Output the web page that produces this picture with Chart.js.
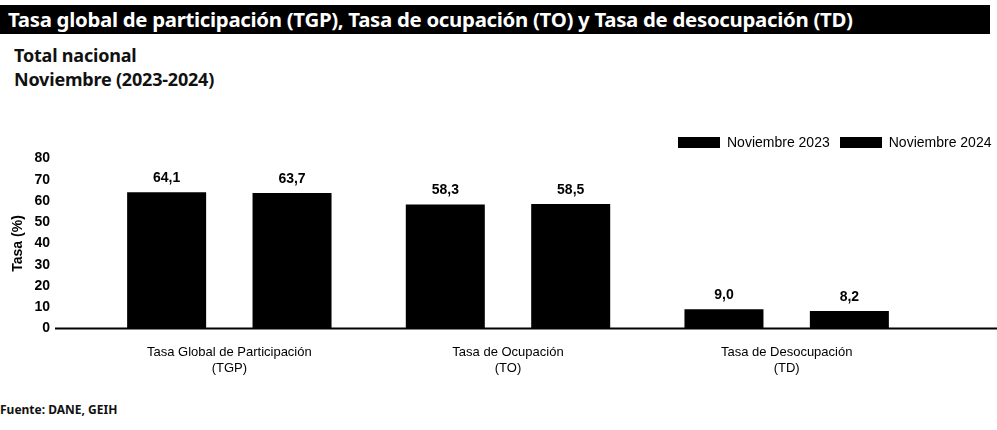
<!DOCTYPE html>
<html>
<head>
<meta charset="utf-8">
<script src="https://cdn.jsdelivr.net/npm/chart.js@4.4.1/dist/chart.umd.min.js"></script>
<style>
  body{margin:0;width:997px;height:430px;background:#fff;position:relative;overflow:hidden;font-family:"Noto Sans",sans-serif;}
  #titlebar{position:absolute;left:0;top:5px;width:990px;height:29px;background:#000;color:#fff;font-weight:700;font-size:20.4px;line-height:29px;padding-left:8px;box-sizing:border-box;white-space:nowrap;letter-spacing:-0.3px;}
  #sub{position:absolute;left:14px;top:43px;font-weight:700;font-size:18px;line-height:24px;color:#111;letter-spacing:-0.2px;}
  #src{position:absolute;left:0;top:401px;font-weight:700;font-size:12px;color:#111;}
  #wrap{position:absolute;left:0;top:110px;width:997px;height:283px;}
  #legend{position:absolute;top:134px;left:678px;display:flex;font-family:"Liberation Sans",Arial,sans-serif;font-size:14px;color:#000;z-index:2;}
  #legend .item{display:flex;align-items:center;margin-right:10px;}
  #legend .item:last-child{margin-right:0;}
  #legend .sw{width:42px;height:11px;margin-right:7px;}
</style>
</head>
<body>
<div id="titlebar">Tasa global de participación (TGP), Tasa de ocupación (TO) y Tasa de desocupación (TD)</div>
<div id="sub">Total nacional<br>Noviembre (2023-2024)</div>
<div id="wrap"><canvas id="chart"></canvas></div>
<div id="legend"></div>
<div id="src">Fuente: DANE, GEIH</div>
<script>
// Data
const categories=[["Tasa Global de Participación","(TGP)"],["Tasa de Ocupación","(TO)"],["Tasa de Desocupación","(TD)"]];
const nov2023=[64.1,58.3,9.0];
const nov2024=[63.7,58.5,8.2];
const seriesNames=["Noviembre 2023","Noviembre 2024"];
const yTicks=[0,10,20,30,40,50,60,70,80];

const FONT='"Liberation Sans", Arial, sans-serif';

// value labels above each bar
const valueLabels={
  id:'valueLabels',
  afterDatasetsDraw(chart){
    const c=chart.ctx;
    c.save();
    c.font='bold 14px '+FONT;
    c.fillStyle='#000';
    c.textAlign='center';
    c.textBaseline='bottom';
    chart.data.datasets.forEach((ds,i)=>{
      chart.getDatasetMeta(i).data.forEach((bar,j)=>{
        c.fillText(ds.data[j].toFixed(1).replace('.',','),bar.x,bar.y-7);
      });
    });
    c.restore();
  }
};

// baseline across the whole width
const baseLine={
  id:'baseLine',
  afterDatasetsDraw(chart){
    const c=chart.ctx, y=chart.scales.y.getPixelForValue(0);
    c.save();
    c.strokeStyle='#000';c.lineWidth=2;
    c.beginPath();c.moveTo(55,y);c.lineTo(chart.width,y);c.stroke();
    c.restore();
  }
};

const ctx=document.getElementById('chart').getContext('2d');
const chart=new Chart(ctx,{
  type:'bar',
  data:{labels:categories,datasets:[
    {label:seriesNames[0],data:nov2023,backgroundColor:'#000',borderWidth:0},
    {label:seriesNames[1],data:nov2024,backgroundColor:'#000',borderWidth:0}
  ]},
  options:{
    responsive:true,maintainAspectRatio:false,animation:false,
    categoryPercentage:0.9,barPercentage:0.63,
    layout:{padding:{left:0,right:71,top:9,bottom:0}},
    plugins:{legend:{display:false},tooltip:{enabled:false}},
    scales:{
      x:{grid:{display:false,drawTicks:false},border:{display:false},
        ticks:{color:'#000',padding:16,maxRotation:0,autoSkip:false,
          font:{family:FONT,size:13,lineHeight:1.25}}},
      y:{min:0,max:80,
        afterBuildTicks(s){s.ticks=yTicks.map(v=>({value:v}));},
        afterFit(s){s.width=90;},
        grid:{display:false,drawTicks:false},border:{display:false},
        ticks:{color:'#000',padding:40,autoSkip:false,
          font:{family:FONT,size:14,weight:'bold'}},
        title:{display:true,text:'Tasa (%)',color:'#000',padding:{top:10,bottom:0},
          font:{family:FONT,size:14,weight:'bold'}}}
    }
  },
  plugins:[valueLabels,baseLine]
});

// legend built from the chart's datasets
const legendEl=document.getElementById('legend');
chart.data.datasets.forEach(ds=>{
  const it=document.createElement('div');
  it.className='item';
  it.innerHTML=`<span class="sw" style="background:${ds.backgroundColor}"></span><span>${ds.label}</span>`;
  legendEl.appendChild(it);
});
</script>
</body>
</html>
